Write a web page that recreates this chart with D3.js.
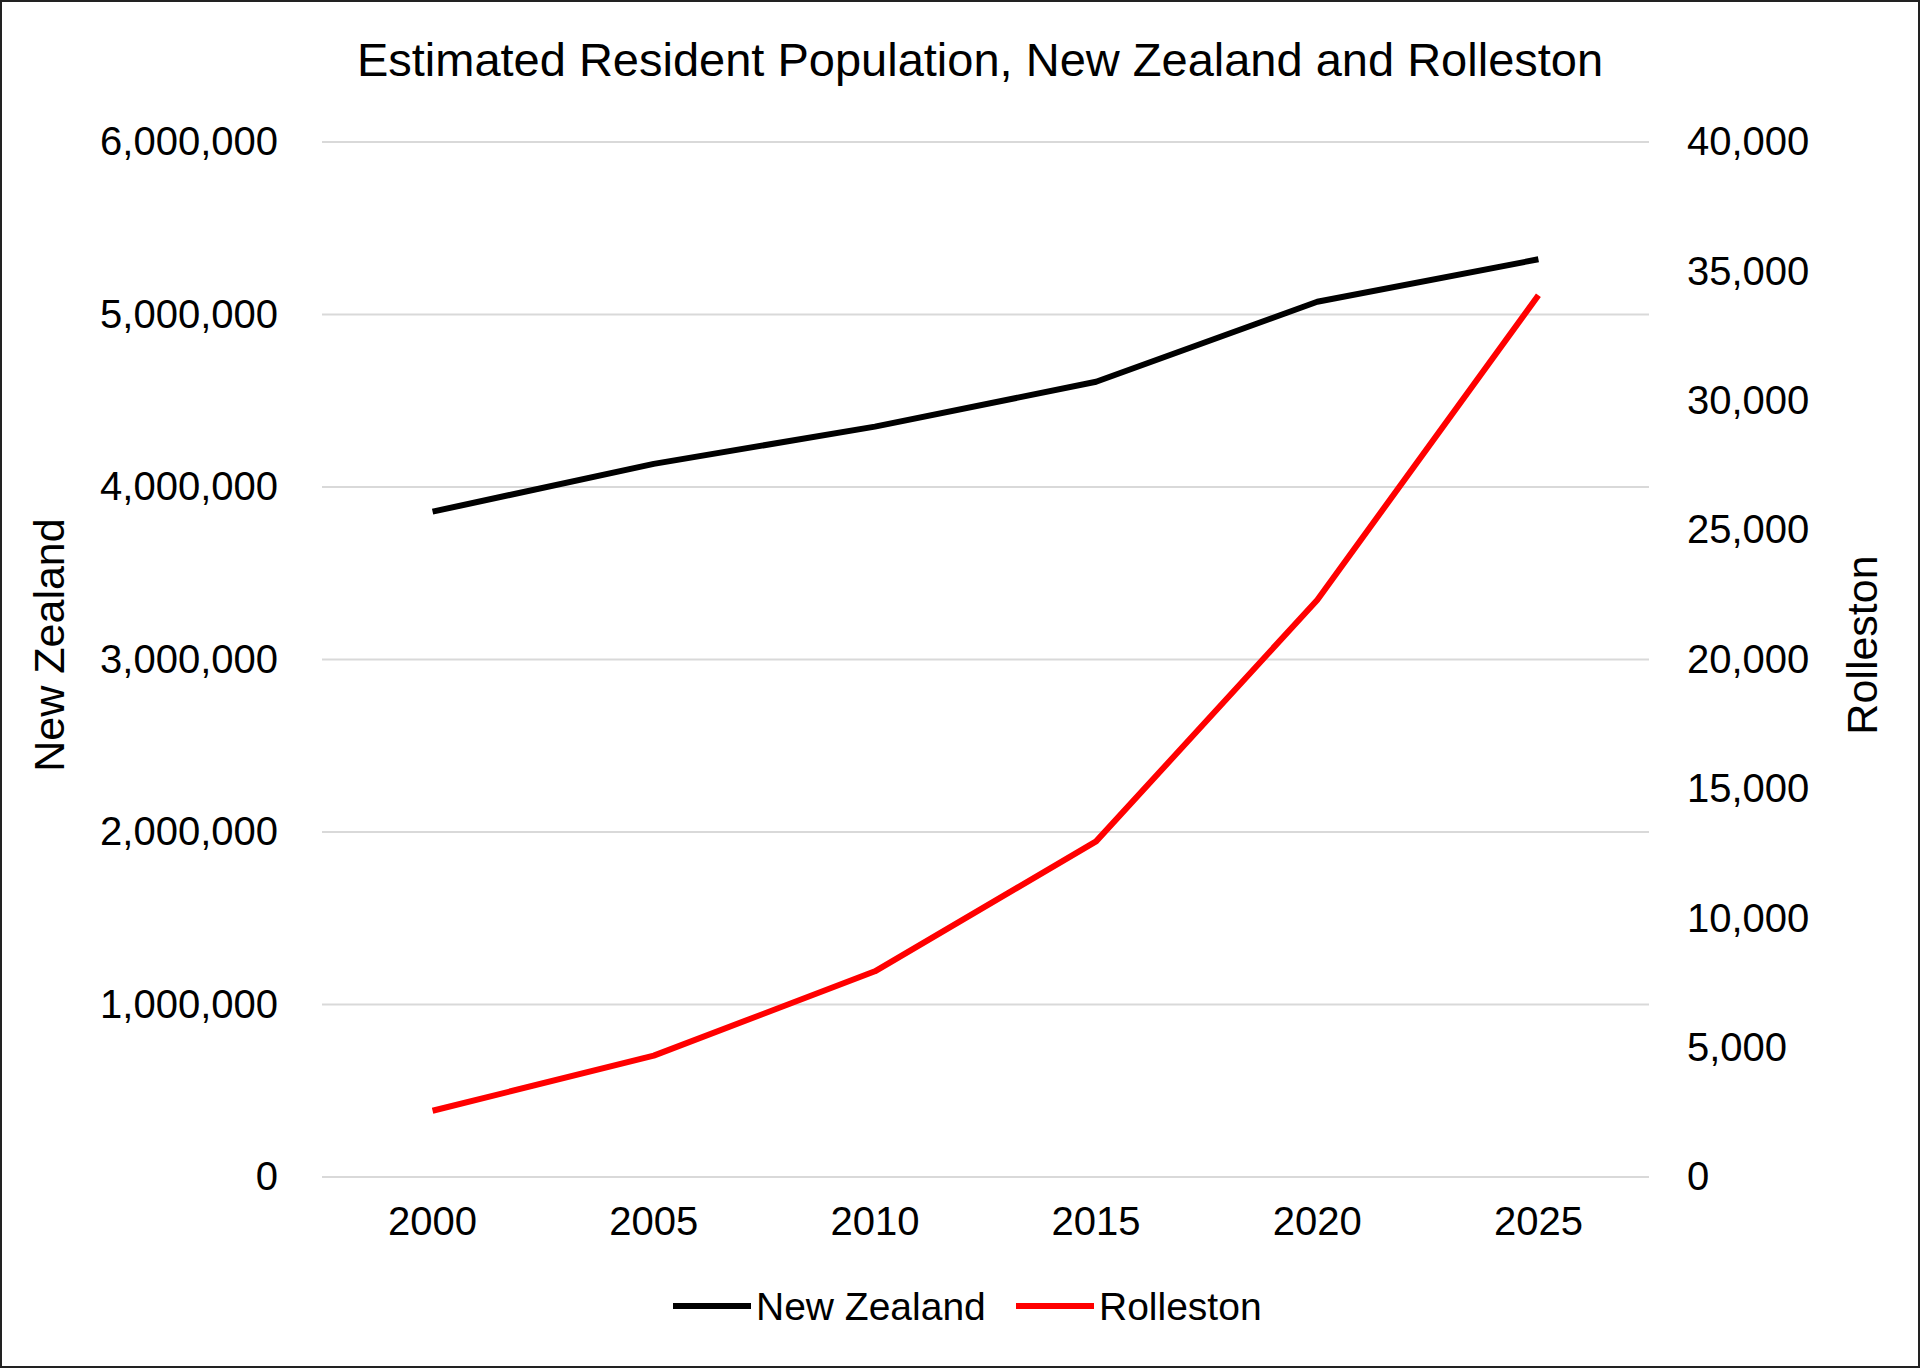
<!DOCTYPE html>
<html><head><meta charset="utf-8">
<script src="https://cdn.jsdelivr.net/npm/d3@7"></script>
<style>body{margin:0;background:#fff}svg{display:block;font-family:"Liberation Sans",Arial,sans-serif}</style>
</head><body><svg id="c" width="1920" height="1368"></svg>
<script>
const years = ["2000","2005","2010","2015","2020","2025"];
const newZealand = [3857000, 4134000, 4350000, 4610000, 5074000, 5320000];
const rolleston = [2560, 4690, 7950, 12970, 22300, 34080];
const leftTicks = [0,1000000,2000000,3000000,4000000,5000000,6000000];
const rightTicks = [0,5000,10000,15000,20000,25000,30000,35000,40000];

const svg = d3.select('#c');
const L = 322, R = 1649, T = 142, B = 1177;
svg.append('rect').attr('x',1).attr('y',1).attr('width',1918).attr('height',1366)
  .attr('fill','#fff').attr('stroke','#222').attr('stroke-width',2);

const x = d3.scaleBand().domain(years).range([L,R]);
const yL = d3.scaleLinear().domain([0,6000000]).range([B,T]);
const yR = d3.scaleLinear().domain([0,40000]).range([B,T]);
const fmt = d3.format(',');

svg.append('g').selectAll('line').data(leftTicks).join('line')
  .attr('x1',L).attr('x2',R).attr('y1',d=>yL(d)).attr('y2',d=>yL(d))
  .attr('stroke','#d9d9d9').attr('stroke-width',2);

const gl = svg.append('g').attr('transform',`translate(${L},0)`)
  .call(d3.axisLeft(yL).tickValues(leftTicks).tickFormat(fmt).tickSize(0).tickPadding(44));
const gr = svg.append('g').attr('transform',`translate(${R},0)`)
  .call(d3.axisRight(yR).tickValues(rightTicks).tickFormat(fmt).tickSize(0).tickPadding(38));
const gx = svg.append('g').attr('transform',`translate(0,${B})`)
  .call(d3.axisBottom(x).tickSize(0).tickPadding(30));
[gl,gr,gx].forEach(g=>{g.select('.domain').remove();
  g.selectAll('text').attr('font-size',40).attr('fill','#000').attr('font-family','"Liberation Sans",Arial,sans-serif');});

const line = (ys, data) => d3.line().x((d,i)=>x(years[i])+x.bandwidth()/2).y(d=>ys(d))(data);
svg.append('path').attr('d',line(yL,newZealand)).attr('fill','none').attr('stroke','#000').attr('stroke-width',6).attr('stroke-linejoin','round');
svg.append('path').attr('d',line(yR,rolleston)).attr('fill','none').attr('stroke','#ff0000').attr('stroke-width',6).attr('stroke-linejoin','round');

svg.append('text').attr('x',980).attr('y',76).attr('text-anchor','middle').attr('font-size',47).text('Estimated Resident Population, New Zealand and Rolleston');
svg.append('text').attr('transform','translate(64,645) rotate(-90)').attr('text-anchor','middle').attr('font-size',43).text('New Zealand');
svg.append('text').attr('transform','translate(1877,645) rotate(-90)').attr('text-anchor','middle').attr('font-size',43).text('Rolleston');

const leg = [{n:'New Zealand',c:'#000',x:673},{n:'Rolleston',c:'#ff0000',x:1016}];
leg.forEach(l=>{
  svg.append('line').attr('x1',l.x).attr('x2',l.x+78).attr('y1',1306).attr('y2',1306).attr('stroke',l.c).attr('stroke-width',6);
  svg.append('text').attr('x',l.x+83).attr('y',1320).attr('font-size',39).text(l.n);
});
</script></body></html>
